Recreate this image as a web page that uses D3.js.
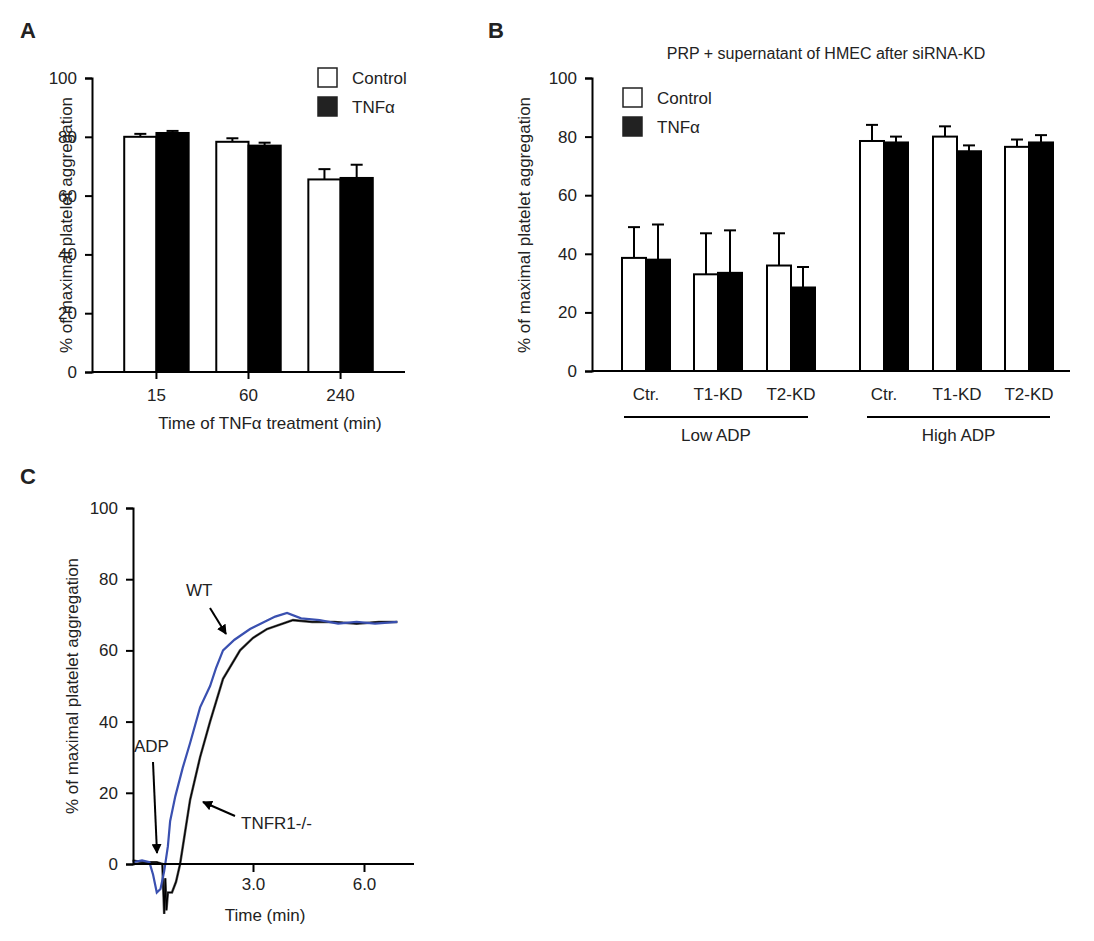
<!DOCTYPE html>
<html lang="en">
<head>
<meta charset="UTF-8">
<script src="https://d3js.org/d3.v7.min.js"></script>
<style>
body { margin: 0; background: #fff; font-family: "Liberation Sans", Arial, sans-serif; }
svg text { font-family: "Liberation Sans", Arial, sans-serif; fill: #222; }
</style>
</head>
<body>
<svg id="fig" width="1094" height="941"></svg>
<script>
// Panel A
const aTimes = ["15", "60", "240"];
const aControl = [80, 78.3, 65.5];
const aControlErr = [1, 1.2, 3.5];
const aTnf = [81.3, 77, 66];
const aTnfErr = [0.7, 1, 4.5];

// Panel B
const bLabels = ["Ctr.", "T1-KD", "T2-KD", "Ctr.", "T1-KD", "T2-KD"];
const bGroups = ["Low ADP", "High ADP"];
const bControl = [38.6, 33, 36, 78.5, 80, 76.5];
const bControlErr = [10.5, 14, 11, 5.5, 3.5, 2.5];
const bTnf = [38, 33.5, 28.5, 78, 75, 78];
const bTnfErr = [12, 14.5, 7, 2, 2, 2.5];

// Panel C (time in min, % aggregation)
const wtT = [-0.25, 0, 0.2, 0.3, 0.4, 0.5, 0.6, 0.7, 0.76, 0.9, 1.1, 1.3, 1.57, 1.84, 2.0, 2.19, 2.5, 2.92, 3.3, 3.6, 3.92, 4.3, 4.8, 5.3, 5.8, 6.3, 6.9];
const wtV = [0.5, 1, 0.5, -3, -8, -7, -2, 5, 12, 19, 27, 34, 44, 50, 55, 60, 63, 66, 68, 69.5, 70.5, 69, 68.5, 67.5, 68, 67.5, 68];
const koT = [-0.25, 0, 0.2, 0.4, 0.55, 0.6, 0.63, 0.66, 0.7, 0.81, 0.92, 1.03, 1.15, 1.3, 1.57, 1.84, 2.19, 2.65, 3.0, 3.38, 4.08, 4.6, 5.2, 5.8, 6.4, 6.9];
const koV = [1, 0.5, 0.5, 0.5, 0, -14, -4, -13, -8, -8, -5, 0, 8, 18, 30, 40, 52, 60, 63.5, 66, 68.5, 68, 68, 67.5, 68, 68];

const yTicks = [0, 20, 40, 60, 80, 100];
const yLabel = "% of maximal platelet aggregation";
const svg = d3.select("#fig");

function yAxis(g, y, x0) {
  const ax = g.append("g").attr("transform", `translate(${x0},0)`)
    .call(d3.axisLeft(y).tickValues(yTicks).tickSize(7).tickPadding(8));
  ax.select(".domain").attr("stroke-width", 2);
  ax.selectAll(".tick line").attr("stroke-width", 2);
  ax.selectAll("text").attr("font-size", 17);
  return ax;
}
function ylab(x, ymid) {
  svg.append("text").attr("transform", `translate(${x},${ymid}) rotate(-90)`)
    .attr("text-anchor", "middle").attr("font-size", 17).text(yLabel);
}
function panelLetter(t, x, y) {
  svg.append("text").attr("x", x).attr("y", y).attr("font-size", 22).attr("font-weight", "bold").text(t);
}
function bars(g, xs, vals, errs, w, fill) {
  vals.forEach((v, i) => {
    const xx = xs[i];
    g.append("line").attr("x1", xx + w / 2).attr("x2", xx + w / 2)
      .attr("y1", g.y(v)).attr("y2", g.y(v + errs[i])).attr("stroke", "#000").attr("stroke-width", 2);
    g.append("line").attr("x1", xx + w / 2 - 6).attr("x2", xx + w / 2 + 6)
      .attr("y1", g.y(v + errs[i])).attr("y2", g.y(v + errs[i])).attr("stroke", "#000").attr("stroke-width", 2);
    g.append("rect").attr("x", xx).attr("y", g.y(v)).attr("width", w)
      .attr("height", g.y(0) - g.y(v)).attr("fill", fill).attr("stroke", "#000").attr("stroke-width", 2);
  });
}
function legend(x, y) {
  [["Control", "#fff"], ["TNFα", "#222"]].forEach((d, i) => {
    svg.append("rect").attr("x", x).attr("y", y + i * 29).attr("width", 19).attr("height", 19)
      .attr("fill", d[1]).attr("stroke", "#222").attr("stroke-width", 1.5);
    svg.append("text").attr("x", x + 34).attr("y", y + i * 29 + 16).attr("font-size", 17).text(d[0]);
  });
}

// ---- A ----
panelLetter("A", 20, 38);
const yA = d3.scaleLinear().domain([0, 100]).range([372, 78]);
const gA = svg.append("g"); gA.y = yA;
const xA = d3.scaleBand().domain(aTimes).range([92, 405]).paddingInner(0.3).paddingOuter(0.35);
const bwA = xA.bandwidth() / 2;
bars(gA, aTimes.map(t => xA(t)), aControl, aControlErr, bwA, "#fff");
bars(gA, aTimes.map(t => xA(t) + bwA), aTnf, aTnfErr, bwA, "#000");
gA.append("line").attr("x1", 92).attr("x2", 405).attr("y1", 372).attr("y2", 372).attr("stroke", "#000").attr("stroke-width", 2);
aTimes.forEach(t => {
  gA.append("line").attr("x1", xA(t) + bwA).attr("x2", xA(t) + bwA).attr("y1", 372).attr("y2", 379).attr("stroke", "#000").attr("stroke-width", 2);
  gA.append("text").attr("x", xA(t) + bwA).attr("y", 401).attr("text-anchor", "middle").attr("font-size", 17).text(t);
});
yAxis(gA, yA, 92);
ylab(72, 225);
svg.append("text").attr("x", 270).attr("y", 429).attr("text-anchor", "middle").attr("font-size", 17).text("Time of TNFα treatment (min)");
legend(318, 68);

// ---- B ----
panelLetter("B", 488, 38);
svg.append("text").attr("x", 826).attr("y", 59).attr("text-anchor", "middle").attr("font-size", 16).text("PRP + supernatant of HMEC after siRNA-KD");
const yB = d3.scaleLinear().domain([0, 100]).range([371, 78]);
const gB = svg.append("g"); gB.y = yB;
const xB = d3.scaleLinear().domain([0, 6]).range([621, 1077]);
const bPos = bLabels.map((d, i) => xB(i) + (i >= 3 ? 0 : 0) + (i >= 3 ? 12 : 0) - (i >= 3 ? 0 : 0));
const bx = [622, 694, 767, 860, 933, 1005];
const bwB = 24;
bars(gB, bx, bControl, bControlErr, bwB, "#fff");
bars(gB, bx.map(v => v + bwB), bTnf, bTnfErr, bwB, "#000");
gB.append("line").attr("x1", 592).attr("x2", 1070).attr("y1", 371).attr("y2", 371).attr("stroke", "#000").attr("stroke-width", 2);
bLabels.forEach((t, i) => {
  gB.append("text").attr("x", bx[i] + bwB).attr("y", 400).attr("text-anchor", "middle").attr("font-size", 17).text(t);
});
[[624, 808], [867, 1050]].forEach((r, i) => {
  gB.append("line").attr("x1", r[0]).attr("x2", r[1]).attr("y1", 417).attr("y2", 417).attr("stroke", "#000").attr("stroke-width", 2);
  gB.append("text").attr("x", (r[0] + r[1]) / 2).attr("y", 441).attr("text-anchor", "middle").attr("font-size", 17).text(bGroups[i]);
});
yAxis(gB, yB, 592);
ylab(530, 225);
legend(623, 88);

// ---- C ----
panelLetter("C", 20, 484);
const yC = d3.scaleLinear().domain([0, 100]).range([864, 508]);
const xC = d3.scaleLinear().domain([0, 3]).range([142, 253]);
const gC = svg.append("g");
const line = d3.line().x(d => xC(d[0])).y(d => yC(d[1])).curve(d3.curveLinear);
gC.append("path").datum(koT.map((t, i) => [t, koV[i]])).attr("d", line)
  .attr("fill", "none").attr("stroke", "#555").attr("stroke-width", 2.5);
gC.append("path").datum(koT.map((t, i) => [t, koV[i]])).attr("d", line)
  .attr("fill", "none").attr("stroke", "#000").attr("stroke-width", 1.2);
gC.append("path").datum(wtT.map((t, i) => [t, wtV[i]])).attr("d", line)
  .attr("fill", "none").attr("stroke", "#3a50b0").attr("stroke-width", 2.2);
const xAxC = gC.append("g").attr("transform", "translate(0,864)")
  .call(d3.axisBottom(xC).tickValues([3, 6]).tickSize(8).tickPadding(6));
xAxC.select(".domain").attr("d", "M133,0H414").attr("stroke-width", 2);
xAxC.selectAll(".tick line").attr("stroke-width", 2);
xAxC.selectAll("text").attr("font-size", 17);
yAxis(gC, yC, 133);
svg.append("text").attr("x", 265).attr("y", 921).attr("text-anchor", "middle").attr("font-size", 17).text("Time (min)");
ylab(78, 686);

// annotations
svg.append("defs").append("marker").attr("id", "ah").attr("viewBox", "0 0 10 10").attr("refX", 9).attr("refY", 5)
  .attr("markerWidth", 5).attr("markerHeight", 5).attr("orient", "auto")
  .append("path").attr("d", "M0,0L10,5L0,10z").attr("fill", "#000");
function arrow(x1, y1, x2, y2) {
  svg.append("line").attr("x1", x1).attr("y1", y1).attr("x2", x2).attr("y2", y2)
    .attr("stroke", "#000").attr("stroke-width", 2).attr("marker-end", "url(#ah)");
}
svg.append("text").attr("x", 186).attr("y", 596).attr("font-size", 17).text("WT");
arrow(210, 608, 226, 634);
svg.append("text").attr("x", 134).attr("y", 752).attr("font-size", 17).text("ADP");
arrow(153, 762, 157, 853);
svg.append("text").attr("x", 241).attr("y", 829).attr("font-size", 17).text("TNFR1-/-");
arrow(235, 816, 203, 802);
</script>
</body>
</html>
